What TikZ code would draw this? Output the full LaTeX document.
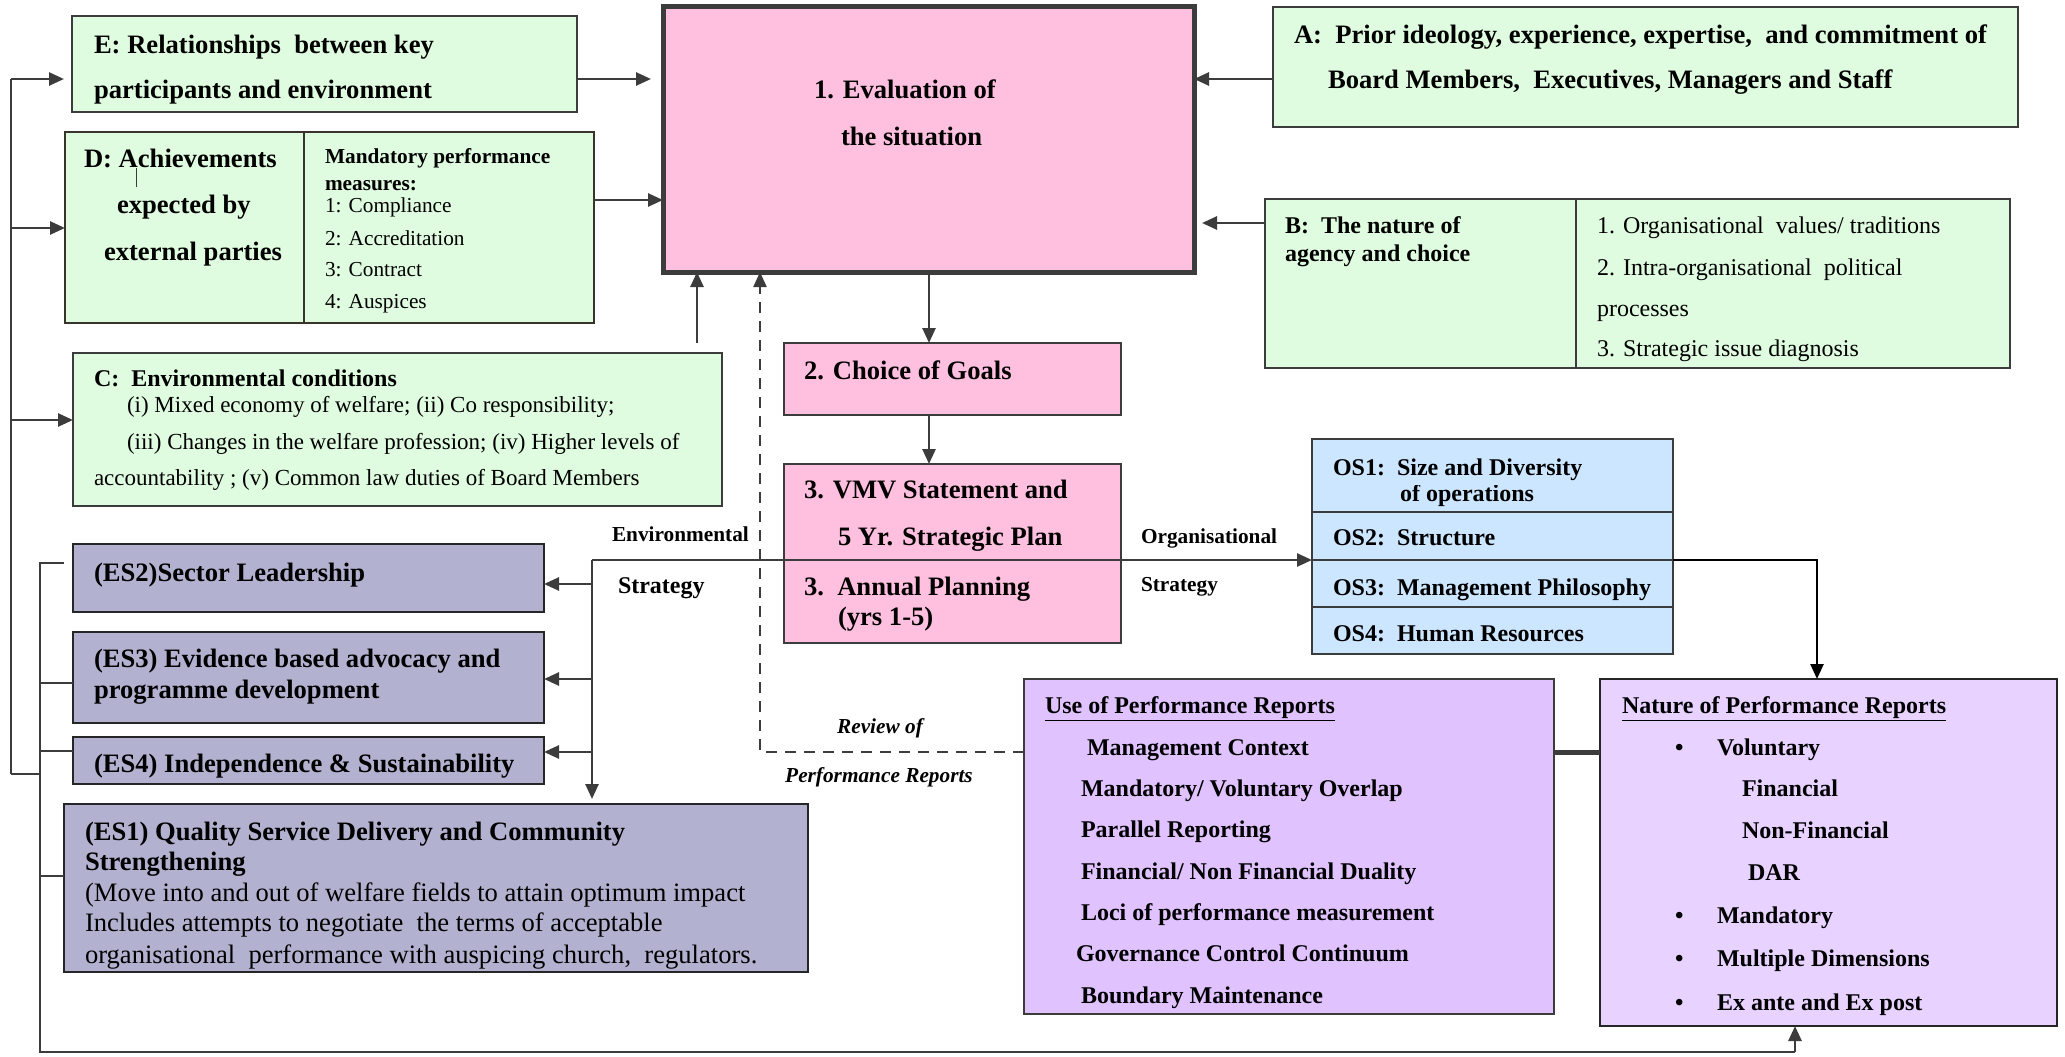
\documentclass[tikz,border=0pt]{standalone}
\usepackage{fontspec}
\setmainfont{Liberation Serif}
\usetikzlibrary{arrows.meta}

\definecolor{gfill}{RGB}{224,252,224}
\definecolor{pfill}{RGB}{255,192,224}
\definecolor{esfill}{RGB}{178,178,208}
\definecolor{osfill}{RGB}{204,230,255}
\definecolor{usefill}{RGB}{224,194,255}
\definecolor{natfill}{RGB}{232,210,255}
\definecolor{lgray}{RGB}{60,60,60}

\newcommand{\szBig}{\fontsize{26.6}{32}\selectfont}
\newcommand{\szMed}{\fontsize{24}{29}\selectfont}
\newcommand{\szC}{\fontsize{23}{28}\selectfont}
\newcommand{\szSm}{\fontsize{21.3}{26}\selectfont}

\tikzset{
  box/.style={draw=lgray, line width=2pt, anchor=north west, inner sep=0pt, outer sep=0pt},
  gbox/.style={box, fill=gfill},
  pbox/.style={box, fill=pfill},
  esbox/.style={box, fill=esfill, draw=black!85},
  osbox/.style={box, fill=osfill},
  ubox/.style={box, fill=usefill},
  nbox/.style={box, fill=natfill, draw=black!85},
  tx/.style={anchor=mid west, inner sep=0pt, outer sep=0pt, text=black, yshift=-6.5pt},
  txc/.style={anchor=mid, inner sep=0pt, outer sep=0pt, text=black, yshift=-5pt},
  arr/.style={line width=2.6pt, draw=lgray, -{Triangle[length=15pt,width=13pt]}},
  plain/.style={line width=2.6pt, draw=lgray},
  divider/.style={line width=2pt, draw=lgray},
}

\begin{document}
\begin{tikzpicture}[x=1pt,y=-1pt]
\useasboundingbox (0,0) rectangle (2065,1057);

% ---------- boxes ----------
\node[gbox, minimum width=505, minimum height=96] (E) at (72,16) {};
\node[pbox, line width=5pt, minimum width=531, minimum height=265] (Eval) at (663,7) {};
\node[gbox, minimum width=745, minimum height=120] (A) at (1273,7) {};
\node[gbox, draw=black!80!olive, minimum width=529, minimum height=191] (D) at (65,132) {};
\node[gbox, minimum width=745, minimum height=169] (B) at (1265,199) {};
\node[gbox, minimum width=649, minimum height=153] (C) at (73,353) {};
\node[pbox, minimum width=337, minimum height=72] (Goals) at (784,343) {};
\node[pbox, minimum width=337, minimum height=179] (VMV) at (784,464) {};
\node[osbox, minimum width=361, minimum height=215] (OS) at (1312,439) {};
\node[esbox, minimum width=471, minimum height=68] (ES2) at (73,544) {};
\node[esbox, minimum width=471, minimum height=91] (ES3) at (73,632) {};
\node[esbox, minimum width=471, minimum height=47] (ES4) at (73,737) {};
\node[esbox, minimum width=744, minimum height=168] (ES1) at (64,804) {};
\node[ubox, minimum width=530, minimum height=335] (Use) at (1024,679) {};
\node[nbox, minimum width=457, minimum height=347] (Nat) at (1600,679) {};

% box dividers
\draw[divider, draw=black!80!olive] (D.north west -| 304,0) -- (D.south west -| 304,0);
\draw[divider] (B.north west -| 1576,0) -- (B.south west -| 1576,0);
\draw[divider] (VMV.west |- 0,560) -- (VMV.east |- 0,560);
\draw[divider] (OS.west |- 0,512) -- (OS.east |- 0,512);
\draw[divider] (OS.west |- 0,560) -- (OS.east |- 0,560);
\draw[divider] (OS.west |- 0,607) -- (OS.east |- 0,607);

% ---------- texts ----------
\begin{scope}[font=\szBig\bfseries]
\node[tx] (e1) at (94,45) {E: Relationships\ \ between key};
\node[tx] (e2) at (94,90) {participants and environment};
\node[tx] (ev1) at (814,90) {1. Evaluation of};
\node[tx] (ev2) at (841,137) {the situation};
\node[tx] (a1) at (1294,35) {A:\ \ Prior ideology, experience, expertise,\ \ and commitment of};
\node[tx] (a2) at (1328,80) {Board Members,\ \ Executives, Managers and Staff};
\node[tx] (d1) at (84,159) {D: Achievements};
\node[tx] (d2) at (117,205) {expected by};
\node[tx] (d3) at (104,252) {external parties};
\node[tx] (g1) at (804,371) {2. Choice of Goals};
\node[tx] (v1) at (804,490) {3. VMV Statement and};
\node[tx] (v2) at (838,537) {5 Yr. Strategic Plan};
\node[tx] (v3) at (804,587) {3.\ \ Annual Planning};
\node[tx] (v4) at (838,617) {(yrs 1-5)};
\node[tx] (s2) at (94,573) {(ES2)Sector Leadership};
\node[tx] (s3a) at (94,659) {(ES3) Evidence based advocacy and};
\node[tx] (s3b) at (94,690) {programme development};
\node[tx] (s4) at (94,764) {(ES4) Independence \& Sustainability};
\node[tx] (s1a) at (85,832) {(ES1) Quality Service Delivery and Community};
\node[tx] (s1b) at (85,862) {Strengthening};
\end{scope}
% small mark inside the D heading
\draw[line width=1pt, draw=lgray] (136,168) -- (136,187);

\begin{scope}[font=\szBig]
\node[tx] (s1c) at (85,893) {(Move into and out of welfare fields to attain optimum impact};
\node[tx] (s1d) at (85,923) {Includes attempts to negotiate\ \ the terms of acceptable};
\begin{scope}
\clip (ES1.west |- 0,940) rectangle (ES1.east |- 0,968);
\node[tx] (s1e) at (85,955) {organisational\ \ performance with auspicing church,\ \ regulators.};
\end{scope}
\end{scope}

% D: mandatory measures
\node[tx, font=\szSm\bfseries] (dm1) at (325,155) {Mandatory performance};
\node[tx, font=\szSm\bfseries] (dm2) at (325,182) {measures:};
\begin{scope}[font=\szSm]
\node[tx] (dm3) at (325,204) {1: Compliance};
\node[tx] (dm4) at (325,237) {2: Accreditation};
\node[tx] (dm5) at (325,268) {3: Contract};
\node[tx] (dm6) at (325,300) {4: Auspices};
\end{scope}

% B: nature of agency
\node[tx, font=\szMed\bfseries] (b1) at (1285,225) {B:\ \ The nature of};
\node[tx, font=\szMed\bfseries] (b2) at (1285,253) {agency and choice};
\begin{scope}[font=\szMed]
\node[tx] (b3) at (1597,225) {1. Organisational\ \ values/ traditions};
\node[tx] (b4) at (1597,267) {2. Intra-organisational\ \ political};
\node[tx] (b5) at (1597,308) {processes};
\begin{scope}
\clip (1580,330) rectangle (2005,361);
\node[tx] (b6) at (1597,348) {3. Strategic issue diagnosis};
\end{scope}
\end{scope}

% C: environmental conditions
\node[tx, font=\szMed\bfseries] (c1) at (94,378) {C:\ \ Environmental conditions};
\begin{scope}[font=\szC]
\node[tx] (c2) at (127,404) {(i) Mixed economy of welfare; (ii) Co responsibility;};
\node[tx] (c3) at (127,441) {(iii) Changes in the welfare profession; (iv) Higher levels of};
\node[tx] (c4) at (94,477) {accountability ; (v) Common law duties of Board Members};
\end{scope}

% organisational strategy
\begin{scope}[font=\szMed\bfseries]
\node[tx] (o1) at (1333,467) {OS1:\ \ Size and Diversity};
\begin{scope}
\clip (1315,485) rectangle (1670,506);
\node[tx] (o1b) at (1400,493) {of operations};
\end{scope}
\node[tx] (o2) at (1333,537) {OS2:\ \ Structure};
\node[tx] (o3) at (1333,587) {OS3:\ \ Management Philosophy};
\node[tx] (o4) at (1333,633) {OS4:\ \ Human Resources};
\end{scope}

% use of performance reports
\begin{scope}[font=\szMed\bfseries]
\node[tx] (u0) at (1045,705) {\underline{Use of Performance Reports}};
\node[tx] (u1) at (1087,747) {Management Context};
\node[tx] (u2) at (1081,788) {Mandatory/ Voluntary Overlap};
\node[tx] (u3) at (1081,829) {Parallel Reporting};
\node[tx] (u4) at (1081,871) {Financial/ Non Financial Duality};
\node[tx] (u5) at (1081,912) {Loci of performance measurement};
\node[tx] (u6) at (1076,953) {Governance Control Continuum};
\begin{scope}
\clip (1030,975) rectangle (1550,1008);
\node[tx] (u7) at (1081,995) {Boundary Maintenance};
\end{scope}
\end{scope}

% nature of performance reports
\begin{scope}[font=\szMed\bfseries]
\node[tx] (n0) at (1622,705) {\underline{Nature of Performance Reports}};
\node[tx] (nb1) at (1675,747) {\textbullet};
\node[tx] (n1) at (1717,747) {Voluntary};
\node[tx] (n2) at (1742,788) {Financial};
\node[tx] (n3) at (1742,830) {Non-Financial};
\node[tx] (n4) at (1748,872) {DAR};
\node[tx] (nb5) at (1675,915) {\textbullet};
\node[tx] (n5) at (1717,915) {Mandatory};
\node[tx] (nb6) at (1675,958) {\textbullet};
\node[tx] (n6) at (1717,958) {Multiple Dimensions};
\node[tx] (nb7) at (1675,1002) {\textbullet};
\node[tx] (n7) at (1717,1002) {Ex ante and Ex post};
\end{scope}

% connector labels
\node[tx, font=\szSm\bfseries] (lEnv) at (612,533) {Environmental};
\node[tx, font=\szMed\bfseries] (lStr1) at (618,585) {Strategy};
\node[tx, font=\szSm\bfseries] (lOrg) at (1141,535) {Organisational};
\node[tx, font=\szSm\bfseries] (lStr2) at (1141,583) {Strategy};
\node[txc, font=\szSm\bfseries\itshape] (lRev1) at (880,726) {Review of};
\node[txc, font=\szSm\bfseries\itshape] (lRev2) at (879,775) {Performance Reports};

% ---------- connectors ----------
\coordinate (busTop) at (11,79);
\coordinate (busBot) at (11,774);
\coordinate (dTap) at (11,228);
\coordinate (cTap) at (11,420);
\coordinate (inTop) at (40,563);
\coordinate (inJoin) at (40,774);
\coordinate (inBot) at (40,1052);
\coordinate (natIn) at (1795,1052);

% outer feedback bus to E, D and C
\draw[plain] (busBot) -- (busTop);
\draw[plain] (busBot) -- (inJoin);
\draw[arr, shorten >=8pt] (busTop) -- (E.west |- busTop);
\draw[arr] (dTap) -- (D.west |- dTap);
\draw[arr] (cTap) -- (C.west |- cTap);

% inner bus from the environmental strategies to the nature of reports
\draw[plain] (inTop -| 64,0) -- (inTop) -- (inBot) -- (natIn);
\draw[arr] (natIn) -- (Nat.south -| natIn);
\draw[plain] (40,683) -- (ES3.west |- 0,683);
\draw[plain] (40,751) -- (ES4.west |- 0,751);
\draw[plain] (40,876) -- (ES1.west |- 0,876);

% inputs to the evaluation of the situation
\draw[arr, shorten >=12pt] (E.east |- busTop) -- (Eval.west |- busTop);
\draw[arr] (D.east |- 0,200) -- (Eval.west |- 0,200);
\draw[arr] (A.west |- busTop) -- (Eval.east |- busTop);
\draw[arr, shorten >=8pt] (B.west |- 0,223) -- (Eval.east |- 0,223);
\coordinate (cUp) at (697,343);
\draw[arr] (cUp) -- (Eval.south -| cUp);

% review of performance reports (dashed feedback)
\coordinate (rv) at (760,752);
\draw[arr, dashed, dash pattern=on 11pt off 8pt, line width=2.2pt] (Use.west |- rv) -- (rv) -- (Eval.south -| rv);

% main planning chain
\coordinate (gx) at (929,0);
\draw[arr] (Eval.south -| gx) -- (Goals.north -| gx);
\draw[arr] (Goals.south -| gx) -- (VMV.north -| gx);

% environmental and organisational strategy
\coordinate (esJ) at (592,560);
\draw[arr] (VMV.west |- esJ) -- (OS.west |- esJ);
\draw[plain] (VMV.west |- esJ) -- (esJ);
\draw[arr, shorten >=5pt] (esJ) -- (ES1.north -| esJ);
\draw[arr] (592,584) -- (ES2.east |- 0,584);
\draw[arr] (592,679) -- (ES3.east |- 0,679);
\draw[arr] (592,752) -- (ES4.east |- 0,752);

% organisational strategy to nature of reports
\coordinate (osR) at (1817,560);
\draw[arr, draw=black] (OS.east |- osR) -- (osR) -- (Nat.north -| osR);

% link between the two report boxes
\draw[line width=5pt, draw=lgray] (Use.east |- 0,752) -- (Nat.west |- 0,752);
\end{tikzpicture}
\end{document}
